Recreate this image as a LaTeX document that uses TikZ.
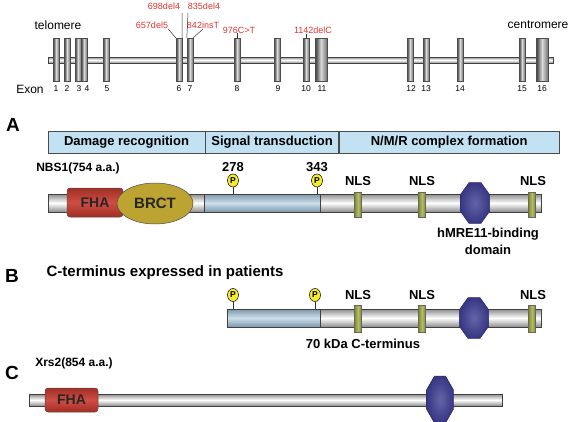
\documentclass[tikz,border=0pt]{standalone}
\usepackage{fontspec}
\setmainfont{Liberation Sans}
\usepackage{tikz}
\usepackage{xcolor}
\usetikzlibrary{positioning,shapes.geometric}

\definecolor{mut-red}{HTML}{E2332E}
\definecolor{box-blue}{HTML}{C2E2F4}
\definecolor{link-blue}{HTML}{A9C9E1}
\definecolor{fha-red}{HTML}{C93A2E}
\definecolor{brct-gold}{HTML}{BDA332}
\definecolor{nls-green}{HTML}{A2AC3A}
\definecolor{mre-blue}{HTML}{3D3D92}
\definecolor{p-yellow}{HTML}{F5EB2E}

\begin{document}
\begin{tikzpicture}
[
x=1pt, y=-1pt,
tube-a/.style={rectangle, draw=black!75, line width=0.6pt, inner sep=0pt, top color=black!45, bottom color=black!45, middle color=white},
tube-b/.style={rectangle, draw=black!75, line width=0.6pt, inner sep=0pt, top color=link-blue!75!black, bottom color=link-blue!75!black, middle color=link-blue!60!white},
exon/.style={rectangle, draw=black!70, line width=0.4pt, inner sep=0pt, minimum width=6pt, minimum height=43pt, left color=black!80, right color=black!55, middle color=black!15},
dom/.style={rectangle, draw=black!70, line width=0.6pt, fill=box-blue, minimum height=22pt, inner sep=0pt, font=\bfseries\fontsize{13}{15}\selectfont},
fha/.style={rectangle, rounded corners=3pt, draw=black!70, line width=0.5pt, inner sep=0pt, top color=fha-red!80!black, bottom color=fha-red!80!black, middle color=fha-red!90!white, text=black!85, font=\bfseries\fontsize{14}{16}\selectfont},
brct/.style={ellipse, draw=black!70, line width=0.5pt, inner sep=0pt, minimum width=76pt, minimum height=41pt, fill=brct-gold, text=black!85, font=\bfseries\fontsize{15}{17}\selectfont},
nls/.style={rectangle, draw=black!60, line width=0.4pt, inner sep=0pt, minimum width=7pt, minimum height=25pt, left color=nls-green!80!black, right color=nls-green!80!black, middle color=nls-green!80!white},
mre/.style={regular polygon, regular polygon sides=8, minimum size=31.5pt, yscale=1.4, transform shape, draw=mre-blue!70!black, line width=0.5pt, inner sep=0pt, inner color=mre-blue!80!white, outer color=mre-blue!90!black},
phos/.style={ellipse, draw=black, line width=0.5pt, fill=p-yellow, inner sep=0pt, minimum width=11pt, minimum height=13pt, font=\bfseries\fontsize{8.5}{9}\selectfont},
text-a/.style={inner sep=0pt, font=\bfseries\fontsize{13}{15}\selectfont},
text-b/.style={inner sep=0pt, font=\fontsize{12}{14}\selectfont},
text-c/.style={inner sep=0pt, font=\fontsize{8.5}{10}\selectfont},
text-m/.style={inner sep=0pt, text=mut-red, font=\fontsize{9}{10}\selectfont},
panel/.style={inner sep=0pt, font=\bfseries\fontsize{19}{21}\selectfont},
link/.style={draw=black!80, line width=0.5pt}
]
\useasboundingbox (0,0) rectangle (571,421);

% gene map
\node (gene)      [tube-a, minimum width=505pt, minimum height=6pt] at (300.5,60) {};
\node (ex-1)      [exon] at ( 56,59.5) {};
\node (ex-2)      [exon] at ( 67,59.5) {};
\node (ex-3)      [exon] at ( 78,59.5) {};
\node (ex-4)      [exon] at ( 84,59.5) {};
\node (ex-5)      [exon] at (106,59.5) {};
\node (ex-6)      [exon] at (179,59.5) {};
\node (ex-7)      [exon] at (190,59.5) {};
\node (ex-8)      [exon] at (237,59.5) {};
\node (ex-9)      [exon] at (277,59.5) {};
\node (ex-10)     [exon] at (306,59.5) {};
\node (ex-11)     [exon, minimum width=12pt] at (321,59.5) {};
\node (ex-12)     [exon] at (410,59.5) {};
\node (ex-13)     [exon] at (426,59.5) {};
\node (ex-14)     [exon] at (460,59.5) {};
\node (ex-15)     [exon] at (522,59.5) {};
\node (ex-16)     [exon, minimum width=12pt] at (542,59.5) {};
\node (ex-1-id)   [text-c] at ( 56,89) {1};
\node (ex-2-id)   [text-c] at ( 67,89) {2};
\node (ex-3-id)   [text-c] at ( 79,89) {3};
\node (ex-4-id)   [text-c] at ( 87,89) {4};
\node (ex-5-id)   [text-c] at (107,89) {5};
\node (ex-6-id)   [text-c] at (179,89) {6};
\node (ex-7-id)   [text-c] at (190,89) {7};
\node (ex-8-id)   [text-c] at (237,89) {8};
\node (ex-9-id)   [text-c] at (278,89) {9};
\node (ex-10-id)  [text-c] at (306,89) {10};
\node (ex-11-id)  [text-c] at (322,89) {11};
\node (ex-12-id)  [text-c] at (411,89) {12};
\node (ex-13-id)  [text-c] at (426,89) {13};
\node (ex-14-id)  [text-c] at (460,89) {14};
\node (ex-15-id)  [text-c] at (522,89) {15};
\node (ex-16-id)  [text-c] at (542,89) {16};
\node (exon)      [text-b] at ( 30,89) {Exon};
\node (telo)      [text-b] at ( 58,25) {telomere};
\node (centro)    [text-b] at (538,25) {centromere};

% mutations
\node (mut-698)   [text-m] at (164, 6.5) {698del4};
\node (mut-835)   [text-m] at (204, 6.5) {835del4};
\node (mut-657)   [text-m] at (152,25.5) {657del5};
\node (mut-842)   [text-m] at (203,25.5) {842insT};
\node (mut-976)   [text-m] at (239,30)   {976C>T};
\node (mut-1142)  [text-m] at (313,30)   {1142delC};
\coordinate (mut-698-end) at (182,13);
\coordinate (mut-835-end) at (188,13);
\draw [link] (ex-6.north east) -- (mut-698-end);
\draw [link] (ex-7.north west) -- (mut-835-end);
\draw [link] (mut-657.south east) -- (ex-6.north west);
\draw [link] (mut-842.south) -- (ex-7.north east);
\draw [link] (ex-8.north) -- (ex-8.north |- mut-976.south);
\draw [link] (ex-10.north) -- (ex-10.north |- mut-1142.south);

% A: NBS1
\node (pan-a)     [panel] at (13,125) {A};
\node (dom-1)     [dom, minimum width=157pt] at (126.5,142) {Damage recognition};
\node (dom-2)     [dom, minimum width=133pt, right = 0pt of dom-1] {Signal transduction};
\node (dom-3)     [dom, minimum width=220pt, right = 0pt of dom-2] {N/M/R complex formation};
\node (nbs1)      [text-a, font=\bfseries\fontsize{12}{14}\selectfont] at (78,168) {NBS1(754 a.a.)};
\node (bar-a)     [tube-a, minimum width=493pt, minimum height=18pt] at (294.5,203) {};
\node (lnk-a)     [tube-b, minimum width=116pt, minimum height=18pt] at (262,203) {};
\node (fha-a)     [fha, minimum width=56pt, minimum height=29pt] at (95,202.5) {FHA};
\node (brct-a)    [brct] at (155,203.5) {BRCT};
\node (nls-a1)    [nls] at (358,205) {};
\node (nls-a2)    [nls] at (422,205) {};
\node (nls-a3)    [nls] at (532,205) {};
\node (mre-a)     [mre] at (475,203) {};
\node (nls-a1-lb) [text-a, above = 6pt of nls-a1] {NLS};
\node (nls-a2-lb) [text-a, above = 6pt of nls-a2] {NLS};
\node (nls-a3-lb) [text-a, above = 6pt of nls-a3, xshift=1pt] {NLS};
\node (p-a1)      [phos] at (233,180.5) {P};
\node (p-a2)      [phos] at (317,180.5) {P};
\node (p-a1-lb)   [text-a, above = 2pt of p-a1] {278};
\node (p-a2-lb)   [text-a, above = 2pt of p-a2] {343};
\draw [link] (p-a1.south) -- (p-a1.south |- bar-a.north);
\draw [link] (p-a2.south) -- (p-a2.south |- bar-a.north);
\node (mre-lb)    [text-a, align=center, font=\bfseries\fontsize{13}{17}\selectfont] at (488,241) {hMRE11-binding\\domain};

% B: C-terminus
\node (pan-b)     [panel] at (12,276) {B};
\node (cterm)     [text-a, font=\bfseries\fontsize{15}{17}\selectfont] at (165,273) {C-terminus expressed in patients};
\node (bar-b)     [tube-a, minimum width=314pt, minimum height=18pt] at (384,318) {};
\node (lnk-b)     [tube-b, minimum width=93pt, minimum height=18pt] at (273.5,318) {};
\node (nls-b1)    [nls, minimum height=27pt] at (358,318.5) {};
\node (nls-b2)    [nls, minimum height=27pt] at (422,318.5) {};
\node (nls-b3)    [nls, minimum height=27pt] at (532,318.5) {};
\node (mre-b)     [mre] at (474,318) {};
\node (nls-b1-lb) [text-a, above = 5pt of nls-b1] {NLS};
\node (nls-b2-lb) [text-a, above = 5pt of nls-b2] {NLS};
\node (nls-b3-lb) [text-a, above = 5pt of nls-b3, xshift=1pt] {NLS};
\node (p-b1)      [phos] at (233,295) {P};
\node (p-b2)      [phos] at (315,295) {P};
\draw [link] (p-b1.south) -- (p-b1.south |- bar-b.north);
\draw [link] (p-b2.south) -- (p-b2.south |- bar-b.north);
\node (kda)       [text-a] at (363,344) {70 kDa C-terminus};

% C: Xrs2
\node (pan-c)     [panel] at (12,373) {C};
\node (xrs2)      [text-a, font=\bfseries\fontsize{12}{14}\selectfont] at (74,363) {Xrs2(854 a.a.)};
\node (bar-c)     [tube-a, minimum width=473pt, minimum height=12pt] at (265.5,400) {};
\node (fha-c)     [fha, minimum width=53pt, minimum height=24pt] at (71.5,400) {FHA};
\node (mre-c)     [mre, minimum size=29pt, yscale=1.25] at (440,399.5) {};
\end{tikzpicture}
\end{document}
